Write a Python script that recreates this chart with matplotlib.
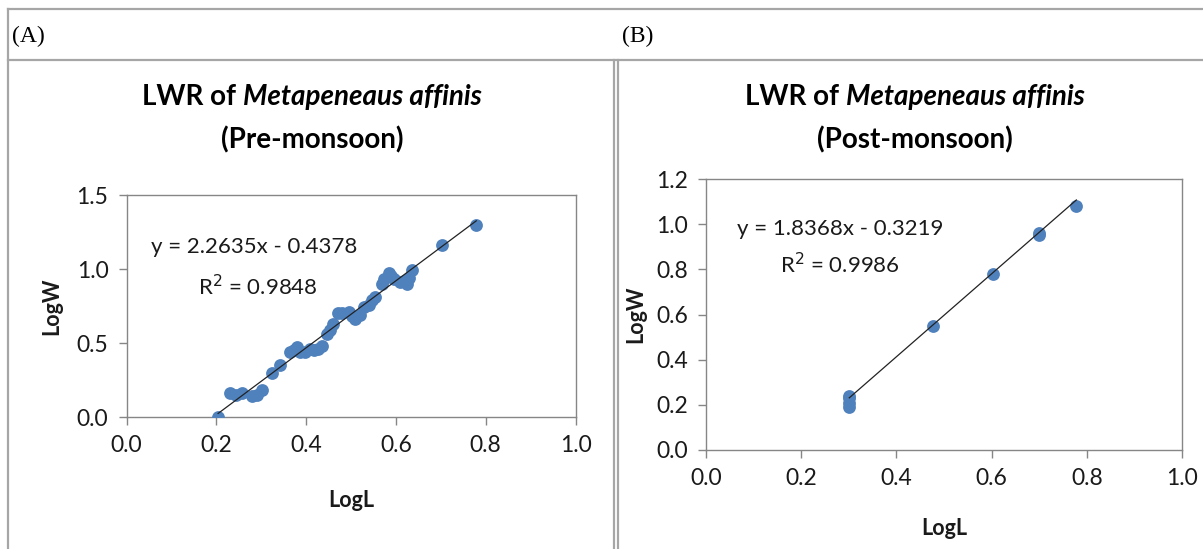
import matplotlib
matplotlib.use("Agg")
import matplotlib.pyplot as plt
from matplotlib.lines import Line2D

W, H = 1203, 549
plt.rcParams['font.family'] = ['Lato', 'DejaVu Sans']

# ---- data ----
pre_logL = [0.204, 0.231, 0.244, 0.257, 0.279, 0.290, 0.301, 0.324, 0.342, 0.365, 0.372,
            0.379, 0.386, 0.398, 0.408, 0.417, 0.427, 0.435, 0.446, 0.453, 0.461, 0.472,
            0.480, 0.495, 0.503, 0.510, 0.519, 0.528, 0.540, 0.547, 0.554, 0.568, 0.573,
            0.584, 0.590, 0.595, 0.610, 0.618, 0.625, 0.630, 0.636, 0.703, 0.779]
pre_logW = [0.00, 0.16, 0.15, 0.16, 0.14, 0.15, 0.18, 0.30, 0.35, 0.44, 0.45,
            0.47, 0.44, 0.44, 0.46, 0.45, 0.46, 0.48, 0.56, 0.59, 0.63, 0.70,
            0.70, 0.71, 0.68, 0.66, 0.69, 0.74, 0.76, 0.79, 0.81, 0.90, 0.93,
            0.97, 0.95, 0.93, 0.91, 0.92, 0.90, 0.94, 0.99, 1.16, 1.30]
post_logL = [0.301, 0.301, 0.301, 0.301, 0.477, 0.602, 0.699, 0.699, 0.778]
post_logW = [0.19, 0.21, 0.23, 0.24, 0.55, 0.78, 0.95, 0.96, 1.08]

pre_eq = ("y = 2.2635x - 0.4378", "0.9848")
post_eq = ("y = 1.8368x - 0.3219", "0.9986")
pre_fit = (2.2635, -0.4378)
post_fit = (1.8368, -0.3219)

pre_yticks = [0.0, 0.5, 1.0, 1.5]
post_yticks = [0.0, 0.2, 0.4, 0.6, 0.8, 1.0, 1.2]
xticks = [0.0, 0.2, 0.4, 0.6, 0.8, 1.0]

blue = '#4F81BD'
grid_col = '#868686'
text_col = '#1a1a1a'


def fx(px):
    return px / W


def fy(py):
    return 1 - py / H


fig = plt.figure(figsize=(W / 100, H / 100), dpi=100)

# table frame lines
line_kw = dict(color='#a6a6a6', lw=1.6, transform=fig.transFigure)
fig.add_artist(Line2D([fx(8), fx(W)], [fy(9), fy(9)], **line_kw))
fig.add_artist(Line2D([fx(8), fx(W)], [fy(60), fy(60)], **line_kw))
fig.add_artist(Line2D([fx(8), fx(8)], [fy(9), fy(H)], **line_kw))
fig.add_artist(Line2D([fx(614), fx(614)], [fy(60), fy(H)], **line_kw))
fig.add_artist(Line2D([fx(618), fx(618)], [fy(60), fy(H)], **line_kw))

fig.text(fx(12), fy(36), "(A)", family='Liberation Serif', fontsize=17, va='center', ha='left', color='black')
fig.text(fx(622), fy(36), "(B)", family='Liberation Serif', fontsize=17, va='center', ha='left', color='black')


def draw_panel(box, xs, ys, fit, eq, ylim, yticks, subtitle, title_cx, eq_pos):
    l, t, r, b = box
    ax = fig.add_axes([fx(l), fy(b), fx(r) - fx(l), fy(t) - fy(b)])
    ax.scatter(xs, ys, s=85, color=blue, zorder=3, linewidths=0)
    x0, x1 = min(xs), max(xs)
    ax.plot([x0, x1], [fit[0] * x0 + fit[1], fit[0] * x1 + fit[1]], color='#222222', lw=0.9, zorder=4)
    ax.set_xlim(0, 1.0)
    ax.set_ylim(*ylim)
    ax.set_xticks(xticks)
    ax.set_xticklabels([f"{v:.1f}" for v in xticks])
    ax.set_yticks(yticks)
    ax.set_yticklabels([f"{v:.1f}" for v in yticks])
    for s in ax.spines.values():
        s.set_color(grid_col)
        s.set_linewidth(1.0)
    ax.tick_params(direction='out', length=6, width=1.0, color=grid_col,
                   labelsize=16.5, labelcolor=text_col, pad=7)
    ax.text(eq_pos[0], eq_pos[1], eq[0], fontsize=16, color=text_col, ha='left', va='center')
    ax.text(eq_pos[2], eq_pos[3], "R$^2$ = " + eq[1], fontsize=16, color=text_col, ha='left', va='center')
    ax.set_ylabel("LogW", fontsize=15.5, fontweight='bold', color=text_col)
    ax.set_xlabel("LogL", fontsize=15.5, fontweight='bold', color=text_col)

    # title: "LWR of " bold + species bold italic, centred
    rend = fig.canvas.get_renderer()
    t1 = fig.text(0, fy(97), "LWR of ", fontsize=20, fontweight='bold', va='center', ha='left', color='black')
    t2 = fig.text(0, fy(97), "Metapeneaus affinis", fontsize=20, fontweight='bold', style='italic',
                  va='center', ha='left', color='black')
    w1 = t1.get_window_extent(rend).width
    w2 = t2.get_window_extent(rend).width
    start = title_cx - (w1 + w2) / 2
    t1.set_x(fx(start))
    t2.set_x(fx(start + w1))
    fig.text(fx(title_cx), fy(140), subtitle, fontsize=20, fontweight='bold', va='center', ha='center', color='black')
    return ax


axA = draw_panel((126.5, 195, 575.5, 417), pre_logL, pre_logW, pre_fit, pre_eq, (0, 1.5), pre_yticks,
                 "(Pre-monsoon)", 312, (0.055, 1.15, 0.16, 0.88))
axB = draw_panel((706, 179, 1182, 450), post_logL, post_logW, post_fit, post_eq, (0, 1.2), post_yticks,
                 "(Post-monsoon)", 915, (0.065, 0.98, 0.155, 0.82))

# axis label positions (axes fractions)
axA.yaxis.set_label_coords(-0.143, 0.5)
axA.xaxis.set_label_coords(0.5, -0.33)
axB.yaxis.set_label_coords(-0.125, 0.5)
axB.xaxis.set_label_coords(0.5, -0.252)

fig.savefig("out.png", dpi=100)
